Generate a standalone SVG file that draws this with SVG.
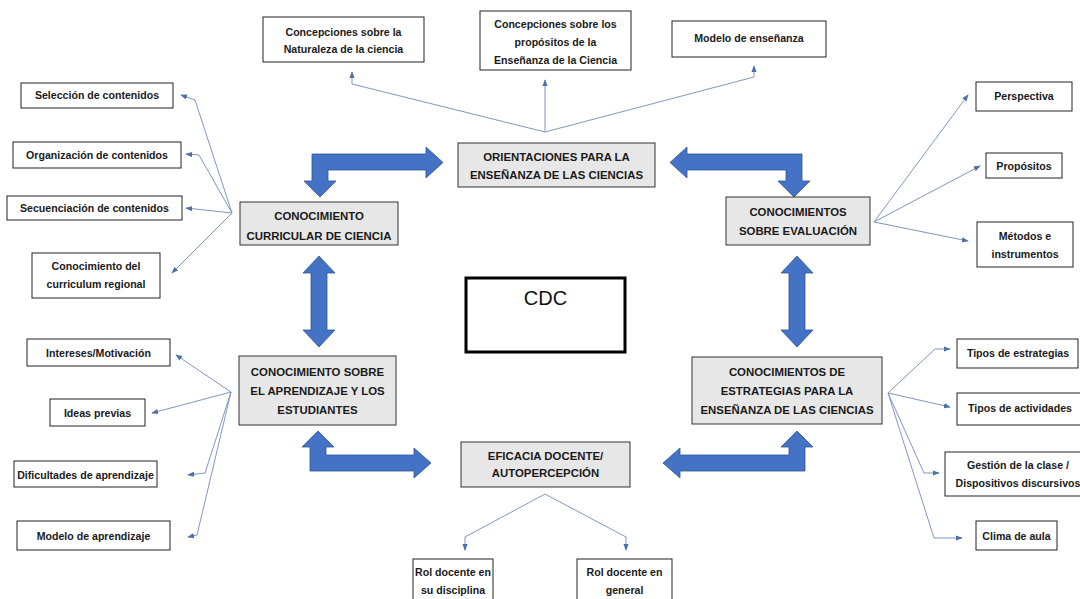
<svg xmlns="http://www.w3.org/2000/svg" width="1080" height="599" viewBox="0 0 1080 599">
<style>
.bx{fill:#ffffff;stroke:#222222;stroke-width:1}
.gn{fill:#e7e7e7;stroke:#333333;stroke-width:1}
.t{font-family:"Liberation Sans",Arial,sans-serif;font-weight:bold;font-size:10.6px;fill:#1a1a1a;text-anchor:middle}
.u{font-family:"Liberation Sans",Arial,sans-serif;font-weight:bold;font-size:11.4px;fill:#1a1a1a;text-anchor:middle}
.ln{fill:none;stroke:#7f97c2;stroke-width:1}
.big{fill:#4472c4;stroke:#2f5597;stroke-width:0.8}
</style>
<defs>
<marker id="ah" viewBox="0 0 8 6" refX="7" refY="3" markerWidth="7" markerHeight="5.5" markerUnits="userSpaceOnUse" orient="auto">
<path d="M0,0 L8,3 L0,6 z" fill="#4f6fa8"/>
</marker>
</defs>
<rect width="1080" height="599" fill="#ffffff"/>

<g id="connectors">
<polyline class="ln" points="545,132 352,84 352,72" marker-end="url(#ah)"/>
<polyline class="ln" points="545,132 545,80" marker-end="url(#ah)"/>
<polyline class="ln" points="545,132 754,77 754,66" marker-end="url(#ah)"/>
<polyline class="ln" points="232,213 195,100 181,95" marker-end="url(#ah)"/>
<polyline class="ln" points="232,213 199,155 186,154" marker-end="url(#ah)"/>
<polyline class="ln" points="232,213 186,208" marker-end="url(#ah)"/>
<polyline class="ln" points="232,213 172,273" marker-end="url(#ah)"/>
<polyline class="ln" points="874,222 968,95" marker-end="url(#ah)"/>
<polyline class="ln" points="874,222 980,166" marker-end="url(#ah)"/>
<polyline class="ln" points="874,222 968,241" marker-end="url(#ah)"/>
<polyline class="ln" points="231,392 176,355" marker-end="url(#ah)"/>
<polyline class="ln" points="231,392 152,413" marker-end="url(#ah)"/>
<polyline class="ln" points="231,392 205,473 188,475" marker-end="url(#ah)"/>
<polyline class="ln" points="231,392 197,535 188,537" marker-end="url(#ah)"/>
<polyline class="ln" points="888,393 935,349 950,349" marker-end="url(#ah)"/>
<polyline class="ln" points="888,393 950,407" marker-end="url(#ah)"/>
<polyline class="ln" points="888,393 924,473 939,473" marker-end="url(#ah)"/>
<polyline class="ln" points="888,393 934,538 962,538" marker-end="url(#ah)"/>
<polyline class="ln" points="545,494 465,537 465,550" marker-end="url(#ah)"/>
<polyline class="ln" points="545,494 626,537 626,550" marker-end="url(#ah)"/>
<polygon class="big" points="312,154 426,154 426,147 443,162.5 426,178 426,170 328,170 328,181 336,181 320,197 304,181 312,181"/>
<polygon class="big" points="802,154 687,154 687,147 670,162.5 687,178 687,170 786,170 786,181 778,181 794,197 810,181 802,181"/>
<polygon class="big" points="319,256 335,273 327,273 327,330 335,330 319,347 303,330 311,330 311,273 303,273"/>
<polygon class="big" points="797,256 813,273 805,273 805,330 813,330 797,347 781,330 789,330 789,273 781,273"/>
<polygon class="big" points="318,431 334,447 326,447 326,455 414,455 414,448 431,463 414,478 414,471 310,471 310,447 302,447"/>
<polygon class="big" points="797,431 813,447 805,447 805,471 680,471 680,478 663,463 680,448 680,455 789,455 789,447 781,447"/>
</g>

<g id="n-naturaleza"><rect class="bx" x="263" y="17" width="161" height="45"/><text class="t" x="343.5" y="36">Concepciones sobre la</text><text class="t" x="343.5" y="53">Naturaleza de la ciencia</text></g>
<g id="n-propositos-ens"><rect class="bx" x="480" y="11" width="151" height="59"/><text class="t" x="555.5" y="28">Concepciones sobre los</text><text class="t" x="555.5" y="46">propósitos de la</text><text class="t" x="555.5" y="64">Enseñanza de la Ciencia</text></g>
<g id="n-modelo-ens"><rect class="bx" x="672" y="21" width="154" height="36"/><text class="t" x="749" y="42">Modelo de enseñanza</text></g>

<g id="n-orientaciones"><rect class="gn" x="458" y="143" width="197" height="44"/><text class="u" x="556.5" y="161">ORIENTACIONES PARA LA</text><text class="u" x="556.5" y="179">ENSEÑANZA DE LAS CIENCIAS</text></g>
<g id="n-curricular"><rect class="gn" x="240" y="202" width="158" height="43"/><text class="u" x="319" y="220">CONOCIMIENTO</text><text class="u" x="319" y="240">CURRICULAR DE CIENCIA</text></g>
<g id="n-evaluacion"><rect class="gn" x="726" y="197" width="144" height="48"/><text class="u" x="798" y="216">CONOCIMIENTOS</text><text class="u" x="798" y="235">SOBRE EVALUACIÓN</text></g>
<g id="n-aprendizaje"><rect class="gn" x="239" y="356" width="157" height="69"/><text class="u" x="317.5" y="376">CONOCIMIENTO SOBRE</text><text class="u" x="317.5" y="395">EL APRENDIZAJE Y LOS</text><text class="u" x="317.5" y="414">ESTUDIANTES</text></g>
<g id="n-estrategias"><rect class="gn" x="692" y="357" width="190" height="67"/><text class="u" x="787" y="376">CONOCIMIENTOS DE</text><text class="u" x="787" y="395">ESTRATEGIAS PARA LA</text><text class="u" x="787" y="414">ENSEÑANZA DE LAS CIENCIAS</text></g>
<g id="n-eficacia"><rect class="gn" x="461" y="442" width="169" height="45"/><text class="u" x="545.5" y="460">EFICACIA  DOCENTE/</text><text class="u" x="545.5" y="477">AUTOPERCEPCIÓN</text></g>
<g id="n-cdc"><rect x="466" y="278" width="159" height="74" fill="#ffffff" stroke="#000000" stroke-width="3"/><text x="545.5" y="305" style="font-family:'Liberation Sans',Arial,sans-serif;font-size:20px;fill:#111;text-anchor:middle">CDC</text></g>

<g id="n-seleccion"><rect class="bx" x="21" y="83" width="152" height="25"/><text class="t" x="97" y="99">Selección de contenidos</text></g>
<g id="n-organizacion"><rect class="bx" x="13" y="142" width="168" height="26"/><text class="t" x="97" y="159">Organización de contenidos</text></g>
<g id="n-secuenciacion"><rect class="bx" x="7" y="196" width="175" height="24"/><text class="t" x="94.5" y="212">Secuenciación de contenidos</text></g>
<g id="n-curriculum"><rect class="bx" x="32" y="253" width="128" height="45"/><text class="t" x="96" y="270">Conocimiento del</text><text class="t" x="96" y="288">curriculum regional</text></g>

<g id="n-perspectiva"><rect class="bx" x="976" y="82" width="96" height="29"/><text class="t" x="1024" y="100">Perspectiva</text></g>
<g id="n-propositos"><rect class="bx" x="986" y="153" width="76" height="25"/><text class="t" x="1024" y="170">Propósitos</text></g>
<g id="n-metodos"><rect class="bx" x="977" y="222" width="96" height="45"/><text class="t" x="1025" y="240">Métodos e</text><text class="t" x="1025" y="258">instrumentos</text></g>

<g id="n-intereses"><rect class="bx" x="27" y="339" width="143" height="27"/><text class="t" x="98.5" y="357">Intereses/Motivación</text></g>
<g id="n-ideas"><rect class="bx" x="50" y="399" width="95" height="27"/><text class="t" x="97.5" y="417">Ideas previas</text></g>
<g id="n-dificultades"><rect class="bx" x="14" y="461" width="143" height="26"/><text class="t" x="85.5" y="479">Dificultades de aprendizaje</text></g>
<g id="n-modelo-apr"><rect class="bx" x="17" y="521" width="153" height="29"/><text class="t" x="93.5" y="540">Modelo de aprendizaje</text></g>

<g id="n-tipos-estr"><rect class="bx" x="957" y="339" width="121" height="29"/><text class="t" x="1018" y="357">Tipos de estrategias</text></g>
<g id="n-tipos-act"><rect class="bx" x="957" y="393" width="130" height="32"/><text class="t" x="1020" y="412">Tipos de actividades</text></g>
<g id="n-gestion"><rect class="bx" x="945" y="452" width="145" height="44"/><text class="t" x="1018" y="469">Gestión de la clase /</text><text class="t" x="1018" y="487">Dispositivos discursivos</text></g>
<g id="n-clima"><rect class="bx" x="976" y="521" width="81" height="29"/><text class="t" x="1016.5" y="540">Clima de aula</text></g>

<g id="n-rol-disc"><rect class="bx" x="413" y="559" width="80" height="46"/><text class="t" x="453" y="576">Rol docente en</text><text class="t" x="453" y="594">su disciplina</text></g>
<g id="n-rol-gen"><rect class="bx" x="577" y="559" width="95" height="46"/><text class="t" x="624.5" y="576">Rol docente en</text><text class="t" x="624.5" y="594">general</text></g>
</svg>
